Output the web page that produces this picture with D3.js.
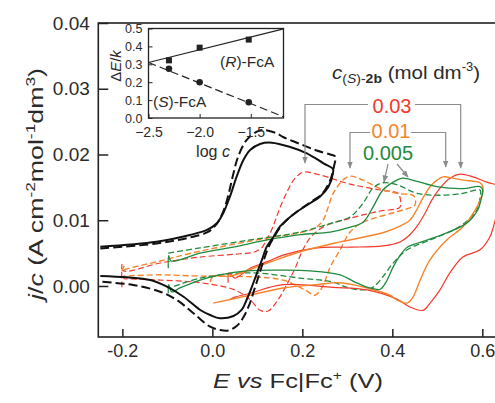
<!DOCTYPE html>
<html><head><meta charset="utf-8">
<script src="https://cdn.jsdelivr.net/npm/d3@7"></script>
<style>
html,body{margin:0;padding:0;background:#fff;}
svg{display:block;font-family:"Liberation Sans",Arial,Helvetica,sans-serif;}
</style></head>
<body>
<svg id="chart" width="495" height="403"></svg>
<script>
// ---------- data ----------
const xTicks = [-0.2, 0.0, 0.2, 0.4, 0.6];
const yTicks = [0.00, 0.01, 0.02, 0.03, 0.04];
const insetXTicks = [-2.5, -2.0, -1.5];
const insetYTicks = [0.0, 0.1, 0.2, 0.3, 0.4, 0.5];
const concLabels = ["0.03", "0.01", "0.005"];

// [E (V), j/c]
const blackSolid = [[-0.249,0.00598],[-0.124,0.00674],[-0.050,0.00776],[-0.012,0.00852],[0.010,0.00954],[0.024,0.01106],[0.039,0.01358],[0.054,0.01662],[0.069,0.01916],[0.084,0.02068],[0.106,0.0216],[0.132,0.0218],[0.173,0.02114],[0.210,0.02018],[0.247,0.01866],[0.268,0.0178],
[0.268,0.01714],[0.258,0.0151],[0.239,0.01358],[0.217,0.01258],[0.188,0.0113],[0.165,0.01004],[0.150,0.00902],[0.136,0.0075],[0.121,0.00598],[0.110,0.00395],[0.099,0.00193],[0.088,-0.0001],[0.076,-0.00213],[0.065,-0.00365],[0.047,-0.00456],[0.017,-0.00491],[-0.005,-0.00441],[-0.027,-0.00365],[-0.064,-0.00163],[-0.101,-0.0001],[-0.138,0.00091],[-0.190,0.00132],[-0.249,0.00152]];
const blackDashed = [[-0.249,0.0057],[-0.124,0.00646],[-0.050,0.00738],[-0.012,0.00814],[0.006,0.00913],[0.022,0.01095],[0.035,0.01369],[0.046,0.01688],[0.057,0.01962],[0.076,0.0222],[0.099,0.02347],[0.113,0.02373],[0.143,0.02322],[0.157,0.02266],[0.195,0.0216],[0.232,0.0206],[0.262,0.0200],[0.273,0.0197],
[0.270,0.0181],[0.262,0.0161],[0.244,0.0140],[0.219,0.01278],[0.190,0.0114],[0.168,0.0102],[0.153,0.00913],[0.137,0.00745],[0.124,0.00578],[0.113,0.00365],[0.103,0.00152],[0.093,-0.0006],[0.082,-0.00289],[0.068,-0.00487],[0.054,-0.00608],[0.035,-0.00677],[0.017,-0.00669],[-0.005,-0.00619],[-0.042,-0.00415],[-0.079,-0.00213],[-0.116,-0.00087],[-0.176,0.00015],[-0.249,0.00065]];

const greenSolid = [[-0.098,0.0027],[-0.097,0.0046],[-0.092,0.0038],[-0.027,0.0050],[0.046,0.0059],[0.122,0.0070],[0.195,0.0078],[0.262,0.0082],[0.299,0.0088],[0.335,0.0097],[0.357,0.0120],[0.379,0.0146],[0.402,0.0158],[0.422,0.0164],[0.455,0.0159],[0.499,0.0151],[0.557,0.0148],[0.595,0.0151],[0.601,0.0146],
[0.597,0.0131],[0.590,0.0116],[0.566,0.0096],[0.499,0.0075],[0.455,0.0065],[0.433,0.0059],[0.417,0.0046],[0.402,0.0029],[0.386,0.0006],[0.373,-0.0005],[0.350,-0.0003],[0.317,0.0006],[0.284,0.0017],[0.217,0.0023],[0.157,0.0024],[0.077,0.0023],[0.017,0.0017],[-0.027,0.0009],[-0.072,-0.0003],[-0.090,-0.0009],[-0.097,0.0002],[-0.098,-0.0011]];
const greenDashed = [[-0.098,0.0050],[-0.027,0.0058],[0.084,0.0070],[0.195,0.0082],[0.262,0.0095],[0.306,0.0105],[0.335,0.0126],[0.357,0.0149],[0.379,0.0157],[0.410,0.0154],[0.455,0.0141],[0.506,0.0138],[0.557,0.0141],[0.595,0.0146],
[0.595,0.0134],[0.588,0.0116],[0.573,0.0103],[0.544,0.0088],[0.484,0.0070],[0.433,0.0055],[0.402,0.0035],[0.379,0.0014],[0.357,-0.0002],[0.335,-0.0006],[0.299,-0.0002],[0.268,0.0006],[0.195,0.0012],[0.084,0.0020],[-0.027,0.0012],[-0.094,-0.0003]];

const orangeSolid = [[-0.005,0.0006],[0.002,0.0015],[0.039,0.0015],[0.122,0.0035],[0.195,0.0052],[0.284,0.0067],[0.379,0.0081],[0.417,0.0091],[0.439,0.0100],[0.452,0.0113],[0.468,0.0134],[0.484,0.0151],[0.499,0.0161],[0.513,0.0166],[0.535,0.0164],[0.557,0.0161],[0.595,0.0157],[0.601,0.0151],
[0.599,0.0138],[0.588,0.0120],[0.557,0.0090],[0.521,0.0070],[0.484,0.0040],[0.462,0.0009],[0.446,-0.0017],[0.433,-0.0026],[0.410,-0.0021],[0.395,-0.0014],[0.344,-0.0003],[0.284,0.0005],[0.232,0.0002],[0.157,-0.0003],[0.084,-0.0014],[0.002,-0.0026]];
const orangeDashed = [[-0.196,0.0031],[-0.201,0.0022],[-0.198,0.0024],[-0.116,0.0038],[-0.027,0.0053],[0.122,0.0073],[0.195,0.0081],[0.228,0.0088],[0.246,0.0100],[0.257,0.0119],[0.268,0.0140],[0.290,0.0161],[0.306,0.0167],[0.335,0.0161],[0.373,0.0148],[0.410,0.0141],[0.446,0.0138],[0.450,0.0135],
[0.450,0.0123],[0.410,0.0113],[0.335,0.0097],[0.306,0.0082],[0.284,0.0055],[0.262,0.0029],[0.244,-0.0002],[0.228,-0.0014],[0.206,-0.0006],[0.157,0.0009],[0.084,0.0014],[-0.027,0.0015],[-0.116,0.0017],[-0.198,0.0015]];

const redSolid = [[0.035,0.0005],[0.037,0.0020],[0.050,0.0012],[0.084,0.0027],[0.122,0.0037],[0.157,0.0047],[0.232,0.0058],[0.306,0.0059],[0.379,0.0061],[0.417,0.0067],[0.439,0.0078],[0.457,0.0093],[0.473,0.0111],[0.488,0.0131],[0.506,0.0149],[0.528,0.0164],[0.550,0.0170],[0.579,0.0166],[0.610,0.0158],[0.639,0.0152],[0.653,0.0146],
[0.653,0.0131],[0.633,0.0108],[0.617,0.0075],[0.595,0.0055],[0.557,0.0044],[0.528,0.0020],[0.506,-0.0006],[0.484,-0.0026],[0.468,-0.0037],[0.439,-0.0032],[0.410,-0.0020],[0.344,-0.0006],[0.268,-0.0002],[0.157,0.0002],[0.084,-0.0011],[0.050,-0.0017],[0.039,-0.0021]];
const redDashed = [[-0.201,-0.0002],[-0.201,0.0033],[-0.198,0.0023],[-0.116,0.0035],[-0.027,0.0044],[0.062,0.0049],[0.095,0.0052],[0.111,0.0059],[0.120,0.0070],[0.129,0.0081],[0.140,0.0100],[0.151,0.0120],[0.168,0.0146],[0.184,0.0164],[0.202,0.0173],[0.233,0.0170],[0.306,0.0155],[0.373,0.0146],[0.413,0.0141],[0.417,0.0135],
[0.417,0.0120],[0.373,0.0114],[0.306,0.0103],[0.250,0.0091],[0.221,0.0076],[0.201,0.0055],[0.184,0.0027],[0.166,0.0003],[0.146,-0.0021],[0.124,-0.0038],[0.106,-0.0037],[0.084,-0.0021],[0.050,-0.0006],[-0.027,0.0005],[-0.116,0.0009],[-0.198,0.0011]];

// inset data
const insetLogC = [-2.3, -2.0, -1.52];
const insetR = [0.322, 0.393, 0.438];
const insetS = [0.275, 0.200, 0.088];
const fitR = [[-2.5, 0.310], [-1.18, 0.498]];
const fitS = [[-2.5, 0.310], [-1.18, 0.007]];

// ---------- colours ----------
const RED = "#f2392c", ORANGE = "#f7842c", GREEN = "#1f8a3e", GREY = "#8c8c8c", TXT = "#2b2b2b";
const FONT = "Liberation Sans, Arial, sans-serif";

// ---------- layout ----------
const svg = d3.select("#chart");
const defs = svg.append("defs");
const x = d3.scaleLinear().domain([-0.2535, 0.65]).range([98.3, 504.8]);
const y = d3.scaleLinear().domain([-0.00776, 0.04]).range([337, 23]);

defs.append("clipPath").attr("id","plotclip")
  .append("rect").attr("x", x.range()[0]).attr("y", y.range()[1])
  .attr("width", x.range()[1]-x.range()[0]).attr("height", y.range()[0]-y.range()[1]);

const line = d3.line().x(d=>x(d[0])).y(d=>y(d[1])).curve(d3.curveCatmullRom.alpha(0.5));
const plot = svg.append("g").attr("clip-path","url(#plotclip)");

const series = [
  {d: redDashed, c: RED, dash: "6,3", w: 1.2},
  {d: orangeDashed, c: ORANGE, dash: "6,3", w: 1.4},
  {d: greenDashed, c: GREEN, dash: "6,3", w: 1.3},
  {d: redSolid, c: RED, dash: null, w: 1.2},
  {d: orangeSolid, c: ORANGE, dash: null, w: 1.4},
  {d: greenSolid, c: GREEN, dash: null, w: 1.3},
  {d: blackDashed, c: "#111", dash: "9,4", w: 2},
  {d: blackSolid, c: "#111", dash: null, w: 2}
];
series.forEach(s => {
  plot.append("path").attr("d", line(s.d)).attr("fill","none")
    .attr("stroke", s.c).attr("stroke-width", s.w)
    .attr("stroke-dasharray", s.dash);
});

// frame (right edge lies outside the picture)
svg.append("rect").attr("x", x.range()[0]).attr("y", y.range()[1])
  .attr("width", x.range()[1]-x.range()[0]).attr("height", y.range()[0]-y.range()[1])
  .attr("fill","none").attr("stroke","#222").attr("stroke-width",1.6);

// axes
const xAxis = d3.axisBottom(x).tickValues(xTicks).tickSize(-8).tickPadding(7).tickFormat(d3.format(".1f"));
const gx = svg.append("g").attr("transform", `translate(0,${y.range()[0]})`).call(xAxis);
gx.select(".domain").remove();
gx.selectAll(".tick line").attr("stroke","#222").attr("stroke-width",1.5);
gx.selectAll(".tick text").attr("font-size", 18).attr("fill", TXT)
  .attr("font-family", FONT).text(d => d3.format(".1f")(d).replace("−","-"));

const yAxis = d3.axisLeft(y).tickValues(yTicks).tickSize(-10).tickPadding(8.5).tickFormat(d3.format(".2f"));
const gy = svg.append("g").attr("transform", `translate(${x.range()[0]},0)`).call(yAxis);
gy.select(".domain").remove();
gy.selectAll(".tick line").attr("stroke","#222").attr("stroke-width",1.5);
gy.selectAll(".tick text").attr("font-size", 19).attr("fill", TXT).attr("font-family", FONT);

// axis titles
const xt = svg.append("text").attr("x", 298).attr("y", 388).attr("text-anchor","middle")
  .attr("font-size", 21).attr("fill", TXT).attr("textLength", 170).attr("lengthAdjust","spacingAndGlyphs");
xt.append("tspan").attr("font-style","italic").text("E vs");
xt.append("tspan").text(" Fc|Fc");
xt.append("tspan").attr("font-size",13).attr("dy",-8).text("+");
xt.append("tspan").attr("dy",8).text(" (V)");

const yt = svg.append("text").attr("transform","translate(43,184) rotate(-90)")
  .attr("text-anchor","middle").attr("font-size", 20).attr("fill", TXT)
  .attr("textLength", 232).attr("lengthAdjust","spacingAndGlyphs");
yt.append("tspan").attr("font-style","italic").text("j");
yt.append("tspan").text("/");
yt.append("tspan").attr("font-style","italic").text("c");
yt.append("tspan").text(" (A cm");
yt.append("tspan").attr("font-size",13).attr("dy",-8).text("-2");
yt.append("tspan").attr("dy",8).text("mol");
yt.append("tspan").attr("font-size",13).attr("dy",-8).text("-1");
yt.append("tspan").attr("dy",8).text("dm");
yt.append("tspan").attr("font-size",13).attr("dy",-8).text("3");
yt.append("tspan").attr("dy",8).text(")");

// ---------- inset ----------
const xi = d3.scaleLinear().domain([-2.5, -1.18]).range([148.5, 283.5]);
const yi = d3.scaleLinear().domain([0, 0.5]).range([118, 28.5]);
svg.append("rect").attr("x",148.5).attr("y",28.5).attr("width",135).attr("height",89.5)
  .attr("fill","#fff").attr("stroke","#222").attr("stroke-width",1.3);
const li = d3.line().x(d=>xi(d[0])).y(d=>yi(d[1]));
svg.append("path").attr("d", li(fitR)).attr("stroke","#222").attr("stroke-width",1.2).attr("fill","none");
svg.append("path").attr("d", li(fitS)).attr("stroke","#222").attr("stroke-width",1.2).attr("fill","none").attr("stroke-dasharray","8,4");
insetLogC.forEach((c,i) => {
  svg.append("rect").attr("x", xi(c)-3).attr("y", yi(insetR[i])-3).attr("width",6).attr("height",6).attr("fill","#222");
  svg.append("circle").attr("cx", xi(c)).attr("cy", yi(insetS[i])).attr("r",3.3).attr("fill","#222");
});
const gxi = svg.append("g").attr("transform","translate(0,118)")
  .call(d3.axisBottom(xi).tickValues(insetXTicks).tickSize(-4).tickPadding(9).tickFormat(d3.format(".1f")));
gxi.select(".domain").remove();
gxi.selectAll(".tick line").attr("stroke","#222");
gxi.selectAll(".tick text").attr("font-size",14).attr("fill",TXT).attr("font-family",FONT);
const gyi = svg.append("g").attr("transform","translate(148.5,0)")
  .call(d3.axisLeft(yi).tickValues(insetYTicks).tickSize(-4).tickPadding(6).tickFormat(d3.format(".1f")));
gyi.select(".domain").remove();
gyi.selectAll(".tick line").attr("stroke","#222");
gyi.selectAll(".tick text").attr("font-size",12.5).attr("fill",TXT).attr("font-family",FONT);

const lc = svg.append("text").attr("x",213).attr("y",157).attr("text-anchor","middle").attr("font-size",16).attr("fill",TXT);
lc.append("tspan").text("log ");
lc.append("tspan").attr("font-style","italic").text("c");
const de = svg.append("text").attr("transform","translate(121,66) rotate(-90)").attr("text-anchor","middle").attr("font-size",15).attr("fill",TXT);
de.append("tspan").text("Δ");
de.append("tspan").attr("font-style","italic").text("E");
de.append("tspan").text("/");
de.append("tspan").attr("font-style","italic").text("k");
function fcaLabel(xp, yp, letter){
  const t = svg.append("text").attr("x",xp).attr("y",yp).attr("font-size",15.5).attr("fill",TXT);
  t.append("tspan").text("(");
  t.append("tspan").attr("font-style","italic").text(letter);
  t.append("tspan").text(")-FcA");
}
fcaLabel(220, 67, "R");
fcaLabel(153, 107, "S");

// ---------- concentration legend ----------
const lt = svg.append("text").attr("x",332).attr("y",79).attr("font-size",19).attr("fill",TXT)
  .attr("textLength",148).attr("lengthAdjust","spacingAndGlyphs");
lt.append("tspan").attr("font-style","italic").text("c");
lt.append("tspan").attr("font-size",13).attr("dy",4).text("(");
lt.append("tspan").attr("font-size",13).attr("font-style","italic").text("S");
lt.append("tspan").attr("font-size",13).text(")-");
lt.append("tspan").attr("font-size",13).attr("font-weight","bold").text("2b");
lt.append("tspan").attr("dy",-4).text(" (mol dm");
lt.append("tspan").attr("font-size",12).attr("dy",-8).text("-3");
lt.append("tspan").attr("dy",8).text(")");

const labCols = [RED, ORANGE, GREEN];
const labPos = [[392,113],[391,138],[388,160]];
concLabels.forEach((s,i)=>{
  svg.append("text").attr("x",labPos[i][0]).attr("y",labPos[i][1]).attr("text-anchor","middle")
    .attr("font-size",20).attr("fill",labCols[i]).text(s);
});

// grey brackets with arrows
defs.append("marker").attr("id","arr").attr("viewBox","0 0 10 10").attr("refX",9).attr("refY",5)
  .attr("markerWidth",6).attr("markerHeight",6).attr("orient","auto-start-reverse")
  .append("path").attr("d","M0,1 L10,5 L0,9 Z").attr("fill",GREY);
function poly(pts){
  svg.append("path").attr("d", d3.line()(pts)).attr("fill","none").attr("stroke",GREY)
    .attr("stroke-width",1.2).attr("marker-end","url(#arr)");
}
poly([[368,104.5],[305,104.5],[305,163]]);
poly([[415,104.5],[460.7,104.5],[460.7,168]]);
poly([[370,132.5],[350,132.5],[350,168]]);
poly([[411,132.5],[445.7,132.5],[445.7,167]]);
poly([[388,164],[384,182]]);
poly([[397,164],[408,177]]);
</script>
</body></html>
